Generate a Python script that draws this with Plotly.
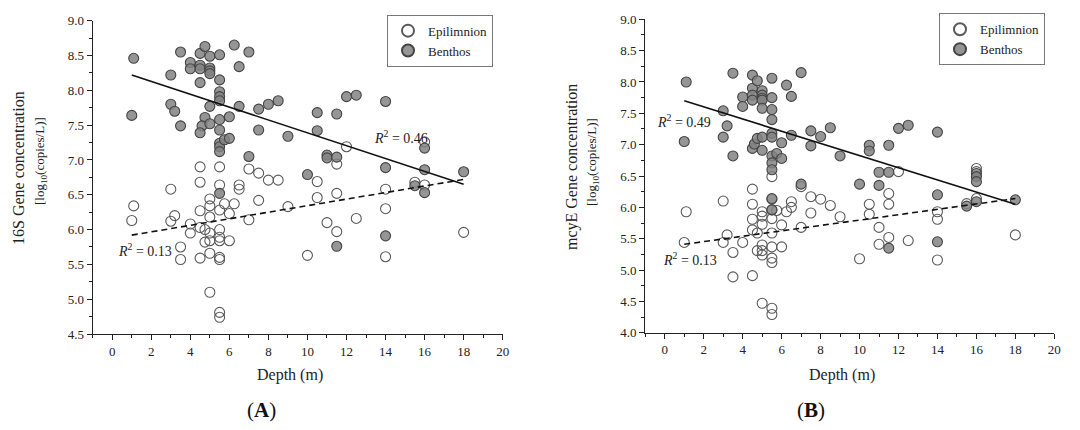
import plotly.graph_objects as go

# ---------------- Panel A (16S) ----------------
a_ben_x = [1.1, 1.0, 3.5, 3.0, 3.0, 3.2, 3.5, 4.0, 4.0, 4.5, 4.5, 4.5, 4.5, 4.75, 5.0, 5.0, 5.0, 5.0,
           5.5, 5.5, 5.5, 5.5, 5.5, 5.0, 4.75, 4.6, 4.5, 5.0, 5.5, 5.5, 5.5, 5.5, 5.5, 5.75, 6.0, 6.0,
           6.25, 6.5, 6.5, 7.0, 7.0, 7.5, 7.5, 8.0, 8.5, 9.0, 10.0, 10.5, 10.5, 11.0, 11.0, 11.5, 11.5,
           11.5, 12.0, 12.5, 14.0, 14.0, 14.0, 15.5, 16.0, 16.0, 16.0, 18.0, 5.5]
a_ben_y = [8.46, 7.64, 8.55, 8.22, 7.80, 7.70, 7.49, 8.40, 8.31, 8.53, 8.36, 8.31, 8.11, 8.63, 8.49, 8.32, 8.28, 8.24,
           8.51, 8.15, 7.98, 7.91, 7.85, 7.77, 7.61, 7.49, 7.39, 7.52, 7.58, 7.43, 7.24, 7.19, 7.12, 7.29, 7.31, 7.62,
           8.65, 8.34, 7.77, 8.55, 7.05, 7.73, 7.43, 7.80, 7.85, 7.34, 6.79, 7.68, 7.42, 7.07, 7.03, 7.66, 7.04,
           5.76, 7.91, 7.93, 7.84, 6.89, 5.91, 6.63, 7.17, 6.86, 6.53, 6.83, 6.52]
a_epi_x = [1.0, 1.1, 3.0, 3.0, 3.2, 3.5, 3.5, 4.0, 4.0, 4.5, 4.5, 4.5, 4.5, 4.5, 4.75, 4.75, 5.0, 5.0, 5.0,
           5.0, 5.0, 5.0, 5.0, 5.5, 5.5, 5.5, 5.5, 5.5, 5.5, 5.5, 5.5, 5.5, 5.5, 5.75, 6.0, 6.0, 6.25, 6.5,
           6.5, 7.0, 7.0, 7.5, 7.5, 8.0, 8.5, 9.0, 10.0, 10.5, 10.5, 11.0, 11.5, 11.5, 11.5, 12.0, 12.5,
           14.0, 14.0, 14.0, 15.5, 16.0, 16.0, 18.0]
a_epi_y = [6.13, 6.34, 6.58, 6.12, 6.20, 5.75, 5.57, 6.08, 5.95, 6.90, 6.68, 6.27, 6.03, 5.59, 6.00, 5.82, 6.44, 6.34, 6.18,
           5.95, 5.84, 5.66, 5.10, 6.90, 6.64, 6.28, 6.00, 5.89, 5.84, 5.60, 5.57, 4.81, 4.74, 6.37, 6.23, 5.84, 6.37, 6.64,
           6.58, 6.87, 6.14, 6.81, 6.42, 6.71, 6.71, 6.33, 5.63, 6.69, 6.46, 6.10, 6.94, 6.52, 5.97, 7.19, 6.16,
           6.58, 6.30, 5.61, 6.68, 7.26, 6.64, 5.96]
trend_x = [1.0, 18.0]
a_ben_trend = [8.22, 6.65]
a_epi_trend = [5.92, 6.72]

# ---------------- Panel B (mcyE) ----------------
b_ben_x = [1.1, 1.0, 3.0, 3.0, 3.2, 3.5, 3.5, 4.0, 4.0, 4.5, 4.5, 4.5, 4.5, 4.5, 4.6, 4.75, 4.75, 5.0, 5.0,
           5.0, 5.0, 5.0, 5.0, 5.0, 5.5, 5.5, 5.5, 5.5, 5.5, 5.5, 5.5, 5.5, 5.5, 5.5, 5.5, 5.75, 6.0, 6.0,
           6.25, 6.5, 6.5, 7.0, 7.0, 7.5, 7.5, 8.0, 8.5, 9.0, 10.0, 10.5, 10.5, 11.0, 11.0, 11.5, 11.5,
           11.5, 12.0, 12.5, 14.0, 14.0, 14.0, 15.5, 16.0, 16.0, 16.0, 16.0, 18.0]
b_ben_y = [8.00, 7.05, 7.54, 7.12, 7.30, 8.14, 6.82, 7.76, 7.61, 8.11, 7.90, 7.79, 7.71, 6.94, 7.01, 8.02, 7.10, 7.86, 7.79,
           7.74, 7.71, 7.58, 7.12, 6.91, 8.06, 7.75, 7.56, 7.40, 7.18, 7.12, 6.82, 6.71, 6.60, 6.14, 5.96, 6.86, 7.03, 6.78,
           7.95, 7.77, 7.15, 8.15, 6.37, 7.22, 6.98, 7.13, 7.27, 6.82, 6.37, 6.99, 6.90, 6.56, 6.35, 6.99, 6.56,
           5.35, 7.26, 7.31, 7.20, 6.20, 5.45, 6.02, 6.54, 6.49, 6.41, 6.09, 6.12]
b_epi_x = [1.0, 1.1, 3.0, 3.0, 3.2, 3.5, 3.5, 4.0, 4.5, 4.5, 4.5, 4.5, 4.5, 4.75, 4.75, 5.0, 5.0, 5.0, 5.0,
           5.0, 5.0, 5.0, 5.5, 5.5, 5.5, 5.5, 5.5, 5.5, 5.5, 5.5, 5.5, 5.5, 5.75, 6.0, 6.0, 6.25, 6.5, 6.5,
           7.0, 7.0, 7.5, 7.5, 8.0, 8.5, 9.0, 10.0, 10.5, 10.5, 11.0, 11.0, 11.5, 11.5, 11.5, 12.0, 12.5,
           14.0, 14.0, 14.0, 15.5, 16.0, 16.0, 16.0, 18.0]
b_epi_y = [5.44, 5.93, 6.10, 5.44, 5.56, 5.28, 4.89, 5.44, 6.29, 6.05, 5.81, 5.64, 4.91, 5.59, 5.31, 5.93, 5.86, 5.73, 5.40,
           5.31, 5.24, 4.47, 6.49, 6.13, 5.96, 5.82, 5.59, 5.37, 5.19, 5.12, 4.39, 4.29, 5.95, 5.72, 5.37, 5.93, 6.09, 6.00,
           6.33, 5.68, 6.17, 5.91, 6.13, 6.03, 5.85, 5.18, 6.05, 5.89, 5.68, 5.41, 6.22, 6.05, 5.52, 6.57, 5.47,
           5.93, 5.81, 5.16, 6.06, 6.62, 6.57, 6.14, 5.56]
b_ben_trend = [7.70, 6.05]
b_epi_trend = [5.41, 6.14]

series_names = ["Epilimnion", "Benthos"]
x_ticks = [0, 2, 4, 6, 8, 10, 12, 14, 16, 18, 20]

FONT = "Liberation Serif, Times New Roman, serif"
W, H = 1080, 430
OFF = 8  # default page body margin of the browser

fig = go.Figure()

open_marker = dict(size=10, color="rgba(255,255,255,0)", line=dict(color="#5a5a5a", width=1.1))
fill_marker = dict(size=10, color="rgba(130,130,130,0.85)", line=dict(color="#444444", width=1.1))

panels = [
    ("x", "y", "legend", a_epi_x, a_epi_y, a_ben_x, a_ben_y, a_ben_trend, a_epi_trend),
    ("x2", "y2", "legend2", b_epi_x, b_epi_y, b_ben_x, b_ben_y, b_ben_trend, b_epi_trend),
]
for xa, ya, lg, ex, ey, bx, by, btr, etr in panels:
    fig.add_trace(go.Scatter(x=ex, y=ey, mode="markers", name=series_names[0], marker=open_marker,
                             xaxis=xa, yaxis=ya, legend=lg))
    fig.add_trace(go.Scatter(x=bx, y=by, mode="markers", name=series_names[1], marker=fill_marker,
                             xaxis=xa, yaxis=ya, legend=lg))
    fig.add_trace(go.Scatter(x=trend_x, y=btr, mode="lines", line=dict(color="#111111", width=1.6),
                             xaxis=xa, yaxis=ya, showlegend=False, hoverinfo="skip"))
    fig.add_trace(go.Scatter(x=trend_x, y=etr, mode="lines", line=dict(color="#111111", width=1.6, dash="6px,4px"),
                             xaxis=xa, yaxis=ya, showlegend=False, hoverinfo="skip"))

def px_x(p):
    return (p - OFF) / W

def px_y(p):
    return 1 - (p - OFF) / H

xaxis_common = dict(range=[-1, 20], tickvals=x_ticks, showline=True, linecolor="#222", linewidth=1.3,
                    ticks="outside", ticklen=5, tickwidth=1.2, tickcolor="#222", showgrid=False, zeroline=False,
                    minor=dict(dtick=1, ticks="outside", ticklen=3, tickwidth=1, tickcolor="#222"),
                    tickfont=dict(family=FONT, size=13, color="#222"))
yaxis_common = dict(dtick=0.5, tickformat=".1f", showline=True, linecolor="#222", linewidth=1.3,
                    ticks="outside", ticklen=5, tickwidth=1.2, tickcolor="#222", showgrid=False, zeroline=False,
                    minor=dict(dtick=0.25, ticks="outside", ticklen=3, tickwidth=1, tickcolor="#222"),
                    tickfont=dict(family=FONT, size=13, color="#222"))

legend_common = dict(bordercolor="#777", borderwidth=1, bgcolor="white",
                     font=dict(family=FONT, size=13, color="#222"), xanchor="right", yanchor="top",
                     tracegroupgap=0, itemsizing="constant", itemwidth=30)

fig.update_layout(
    width=W, height=H, margin=dict(l=0, r=0, t=0, b=0, autoexpand=False),
    paper_bgcolor="white", plot_bgcolor="white",
    xaxis=dict(domain=[px_x(92.7), px_x(502.7)], anchor="y", **xaxis_common),
    yaxis=dict(domain=[px_y(334), px_y(20.7)], anchor="x", range=[4.5, 9.0], **yaxis_common),
    xaxis2=dict(domain=[px_x(645.3), px_x(1054.3)], anchor="y2", **xaxis_common),
    yaxis2=dict(domain=[px_y(332.7), px_y(19.3)], anchor="x2", range=[4.0, 9.0], **yaxis_common),
    legend=dict(x=px_x(493), y=px_y(14.7), **legend_common),
    legend2=dict(x=px_x(1045), y=px_y(13.3), **legend_common),
    showlegend=True,
)

ann = []
# y-axis titles
for xc, yc, t1, xc2, yc2 in [(18, 168, "16S Gene concentration", 40, 161),
                             (572, 167, "mcyE Gene concentration", 593, 162)]:
    ann.append(dict(text=t1, x=px_x(xc), y=px_y(yc), xref="paper", yref="paper", textangle=-90,
                    showarrow=False, xanchor="center", yanchor="middle",
                    font=dict(family=FONT, size=16, color="#222")))
    ann.append(dict(text="[log<sub>10</sub>(copies/L)]", x=px_x(xc2), y=px_y(yc2), xref="paper", yref="paper",
                    textangle=-90, showarrow=False, xanchor="center", yanchor="middle",
                    font=dict(family=FONT, size=13, color="#222")))
# x-axis titles and panel labels
for xc in [290, 842]:
    ann.append(dict(text="Depth (m)", x=px_x(xc), y=px_y(375), xref="paper", yref="paper", showarrow=False,
                    xanchor="center", yanchor="middle", font=dict(family=FONT, size=16, color="#222")))
for xc, lab in [(261, "A"), (811, "B")]:
    ann.append(dict(text="(<b>%s</b>)" % lab, x=px_x(xc), y=px_y(410), xref="paper", yref="paper",
                    showarrow=False, xanchor="center", yanchor="middle",
                    font=dict(family=FONT, size=21, color="#111")))
# R^2 labels (data coordinates)
for xr, yr, xv, yv, txt in [("x", "y", 14.8, 7.33, "0.46"), ("x", "y", 1.69, 5.70, "0.13"),
                            ("x2", "y2", 1.01, 7.37, "0.49"), ("x2", "y2", 1.32, 5.17, "0.13")]:
    ann.append(dict(text="<i>R</i><sup>2</sup> = " + txt, x=xv, y=yv, xref=xr, yref=yr, showarrow=False,
                    xanchor="center", yanchor="middle", bgcolor="rgba(0,0,0,0)",
                    font=dict(family=FONT, size=14, color="#222")))
fig.update_layout(annotations=ann)

fig.write_html("out.html")
